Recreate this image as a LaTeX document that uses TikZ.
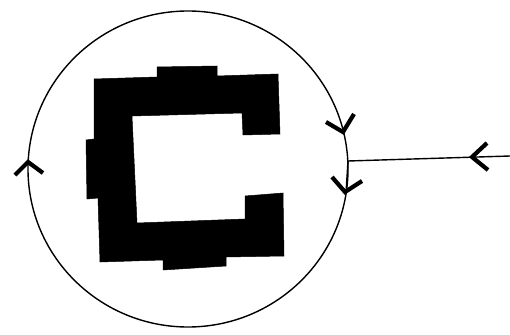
\documentclass[tikz,border=0pt]{standalone}
\begin{document}
\begin{tikzpicture}[x=1pt,y=-1pt,
  thinline/.style={line width=1.4pt},
  chevron/.style={line width=4.2pt, line join=miter},
  slab/.style={fill=black, draw=black, line width=0.5pt}]
\useasboundingbox (0,0) rectangle (510,334);
% the loop
\draw[thinline] (188,169) ellipse [x radius=160, y radius=158];
% C-shaped block
\draw[slab] (94,79) -- (157,77) -- (157,67) -- (217,66) -- (217,76) -- (278,74)
  -- (280,134) -- (243,135) -- (242,113) -- (132,116) -- (137,223) -- (245,219)
  -- (245,196) -- (283,193) -- (284,256) -- (226,257) -- (226,266) -- (163,270)
  -- (163,260) -- (100,262) -- (98,198) -- (87,199) -- (86,140) -- (94,139) -- cycle;
% incoming lead
\coordinate (in) at (510,156);
\coordinate (corner) at (348,161);
\coordinate (join) at (346,193);
\draw[thinline] (in) -- (corner) -- (join);
% chevrons
\draw[chevron] (487,143) -- (472,157) -- (488,170);
\draw[chevron] (332,177) -- (345,192) -- (362,181);
\draw[chevron] (326,122) -- (343,132) -- (354,114);
\draw[chevron] (15,175) -- (28,162) -- (43,173);
\end{tikzpicture}
\end{document}
